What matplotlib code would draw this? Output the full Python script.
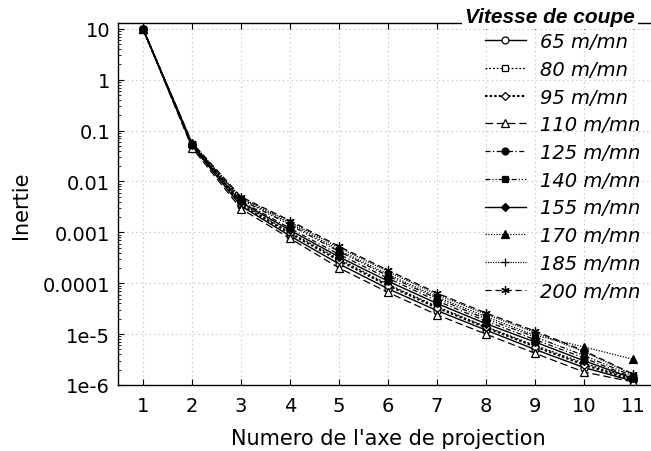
import numpy as np
import matplotlib
matplotlib.use('Agg')
import matplotlib.pyplot as plt
from matplotlib.ticker import FixedLocator, FixedFormatter, LogLocator, NullFormatter

plt.rcParams['font.family'] = ['DejaVu Sans']

axe = [1, 2, 3, 4, 5, 6, 7, 8, 9, 10, 11]
vitesses = ['65 m/mn', '80 m/mn', '95 m/mn', '110 m/mn', '125 m/mn',
            '140 m/mn', '155 m/mn', '170 m/mn', '185 m/mn', '200 m/mn']

v65 = [10, 0.050, 0.0033, 0.00085, 0.00024, 7.8e-5, 2.9e-5, 1.2e-5, 5.0e-6, 2.2e-6, 1.2e-6]
v80 = [10, 0.052, 0.0037, 0.0010, 0.00030, 9.5e-5, 3.5e-5, 1.4e-5, 6.0e-6, 2.7e-6, 1.3e-6]
v95 = [10, 0.051, 0.0035, 0.00095, 0.00028, 9.0e-5, 3.3e-5, 1.35e-5, 5.7e-6, 2.5e-6, 1.25e-6]
v110 = [10, 0.046, 0.0029, 0.00076, 0.00020, 6.6e-5, 2.4e-5, 1.0e-5, 4.2e-6, 1.8e-6, 1.15e-6]
v125 = [10, 0.054, 0.0041, 0.0012, 0.00037, 1.25e-4, 4.5e-5, 1.8e-5, 7.8e-6, 3.4e-6, 1.4e-6]
v140 = [10, 0.055, 0.0044, 0.0014, 0.00042, 1.4e-4, 5.0e-5, 2.0e-5, 8.8e-6, 3.8e-6, 1.5e-6]
v155 = [10, 0.053, 0.0039, 0.0011, 0.00033, 1.1e-4, 4.0e-5, 1.6e-5, 7.0e-6, 3.0e-6, 1.35e-6]
v170 = [10, 0.056, 0.0046, 0.0015, 0.00045, 1.5e-4, 5.4e-5, 2.2e-5, 9.5e-6, 5.6e-6, 3.2e-6]
v185 = [10, 0.057, 0.0048, 0.0016, 0.00050, 1.7e-4, 6.0e-5, 2.45e-5, 1.08e-5, 4.5e-6, 1.6e-6]
v200 = [10, 0.058, 0.0050, 0.0017, 0.00053, 1.8e-4, 6.4e-5, 2.6e-5, 1.15e-5, 4.7e-6, 1.65e-6]
series = [v65, v80, v95, v110, v125, v140, v155, v170, v185, v200]

ytick_vals = [10, 1, 0.1, 0.01, 0.001, 0.0001, 1e-5, 1e-6]
ytick_labels = ['10', '1', '0.1', '0.01', '0.001', '0.0001', '1e-5', '1e-6']

# style per series: linestyle, marker, marker face, linewidth
styles = [
    ('-', 'o', 'white', 1.0),
    ((0, (1.5, 1.5)), 's', 'white', 0.9),
    ((0, (1.2, 1.0)), 'D', 'white', 1.5),
    ((0, (6, 3)), '^', 'white', 0.9),
    ((0, (4, 2, 1, 2)), 'o', 'black', 0.9),
    ((0, (4, 1.5, 1, 1.5, 1, 1.5)), 's', 'black', 0.9),
    ('-', 'D', 'black', 1.0),
    ((0, (1, 1.2)), '^', 'black', 0.9),
    ((0, (1, 1)), '+', 'black', 0.9),
    ((0, (5, 3)), (6, 2, 0), 'black', 0.9),
]
msizes = [5, 5, 4, 5.5, 5, 5, 4, 5.5, 6, 6]

fig = plt.figure(figsize=(6.51, 4.52), dpi=100)
ax = fig.add_axes([118.5 / 651, 66 / 452, 539 / 651, 362 / 452])

for vals, lab, (ls, mk, fc, lw), ms in zip(series, vitesses, styles, msizes):
    ax.plot(axe, vals, color='black', linestyle=ls, linewidth=lw,
            marker=mk, markersize=ms, markerfacecolor=fc,
            markeredgecolor='black', markeredgewidth=0.9, label=lab)

ax.set_yscale('log')
ax.set_ylim(1e-6, 13)
ax.set_xlim(0.5, 11.5)
ax.set_xticks(axe)
ax.yaxis.set_major_locator(FixedLocator(ytick_vals))
ax.yaxis.set_major_formatter(FixedFormatter(ytick_labels))
ax.yaxis.set_minor_locator(LogLocator(base=10, subs=np.arange(2, 10)))
ax.yaxis.set_minor_formatter(NullFormatter())
ax.tick_params(which='both', direction='in', top=True, right=False,
               labelsize=14, colors='black')
ax.tick_params(which='major', length=4)
ax.tick_params(which='minor', length=2)
ax.tick_params(axis='x', pad=8)
ax.tick_params(axis='y', pad=6)
ax.grid(True, which='major', linestyle=(0, (1, 3)), color='#bbbbbb', linewidth=0.8)
for s in ['left', 'top', 'bottom']:
    ax.spines[s].set_linewidth(1.0)

ax.set_xlabel("Numero de l'axe de projection", fontsize=15, labelpad=9)
ax.set_ylabel('Inertie', fontsize=15, labelpad=8)

leg = ax.legend(loc='upper left', bbox_to_anchor=(485 / 651, 1 - 33 / 452),
                bbox_transform=fig.transFigure, frameon=False,
                fontsize=14, handlelength=2.1,
                labelspacing=0.45, handletextpad=0.75, borderpad=0,
                borderaxespad=0, numpoints=1)
for t in leg.get_texts():
    t.set_fontstyle('italic')
leg.set_zorder(10)

# legend title sitting on the top frame line
fig.text(550 / 651, 1 - 23 / 452, 'Vitesse de coupe', ha='center', va='baseline',
         fontsize=15, fontweight='bold', fontstyle='italic',
         family=['Liberation Sans', 'DejaVu Sans'],
         bbox=dict(facecolor='white', edgecolor='none', pad=2))

fig.savefig('out.png', dpi=100)
